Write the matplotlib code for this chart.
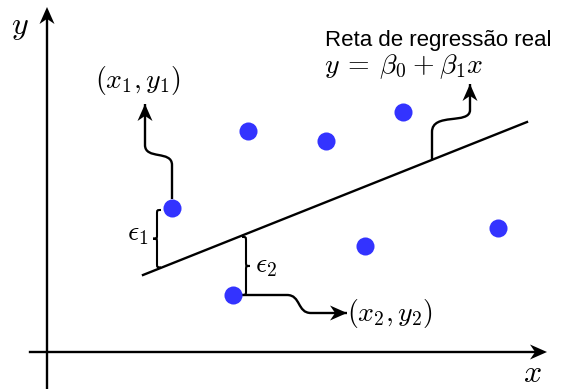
import matplotlib.pyplot as plt
import numpy as np
from matplotlib.path import Path
from matplotlib.patches import PathPatch, Polygon

plt.rcParams["mathtext.fontset"] = "cm"

# observations on a pixel-like canvas (y grows downward)
obs_x = [172, 248, 326, 403, 365, 498, 233]
obs_y = [208, 131, 141, 112, 246, 228, 295]

# true regression line end points
line_x = [143, 527]
line_y = [275, 122]

W, H = 561, 389
fig = plt.figure(figsize=(W / 100, H / 100), dpi=100)
ax = fig.add_axes([0, 0, 1, 1])
ax.set_xlim(0, W)
ax.set_ylim(H, 0)
ax.axis("off")

LW = 1.7
MATH = 20
slope = (line_y[1] - line_y[0]) / (line_x[1] - line_x[0])


def line_at(x):
    return line_y[0] + slope * (x - line_x[0])


def head(tip, frm, length=17, width=15):
    tip = np.asarray(tip, float)
    d = tip - np.asarray(frm, float)
    d /= np.hypot(*d)
    n = np.array([-d[1], d[0]])
    pts = [tip,
           tip - d * length + n * width / 2,
           tip - d * length * 0.7,
           tip - d * length - n * width / 2]
    ax.add_patch(Polygon(pts, closed=True, color="black", lw=0, zorder=4))


def curved_arrow(verts, codes):
    ax.add_patch(PathPatch(Path(verts, codes), fill=False, lw=LW,
                           edgecolor="black", capstyle="butt", zorder=3))
    head(verts[-1], verts[-2])


def brace(x, y0, y1, side, h=4):
    # vertical curly brace; side=-1 tip points left, +1 tip points right
    ym = (y0 + y1) / 2
    back = x - side * h
    tip = x + side * h
    verts = [(back, y0), (x, y0), (x, y0), (x, y0 + h),
             (x, ym - h),
             (x, ym), (x, ym), (tip, ym),
             (x, ym), (x, ym), (x, ym + h),
             (x, y1 - h),
             (x, y1), (x, y1), (back, y1)]
    codes = [Path.MOVETO] + [Path.CURVE4] * 3 + [Path.LINETO] + \
            [Path.CURVE4] * 6 + [Path.LINETO] + [Path.CURVE4] * 3
    ax.add_patch(PathPatch(Path(verts, codes), fill=False, lw=1.5,
                           edgecolor="black"))


# coordinate axes
ax.plot([47, 47], [H, 20], color="black", lw=LW)
head((47, 7), (47, 40))
ax.plot([30, 535], [352, 352], color="black", lw=LW)
head((547, 352), (500, 352))
ax.text(20, 26, "$y$", fontsize=23, ha="center", va="center")
ax.text(532, 374, "$x$", fontsize=23, ha="center", va="center")

# regression line and sample points
ax.plot(line_x, line_y, color="black", lw=LW, zorder=2)
ax.plot(obs_x, obs_y, "o", color="#3333ff", markersize=13, mec="none",
        zorder=5)

# errors
brace(157, obs_y[0] + 2, line_at(157) - 2, side=-1)
ax.text(138, 233, r"$\epsilon_1$", fontsize=MATH, ha="center", va="center")
brace(246, line_at(246) + 3, obs_y[6], side=1)
ax.text(266, 265, r"$\epsilon_2$", fontsize=MATH, ha="center", va="center")

C, L, M = Path.CURVE4, Path.LINETO, Path.MOVETO

# (x1, y1) pointer
curved_arrow([(obs_x[0], obs_y[0] - 9), (obs_x[0], 165),
              (obs_x[0], 150), (145, 160), (145, 145), (145, 104)],
             [M, L, C, C, C, L])
ax.text(138, 80, r"$(x_1, y_1)$", fontsize=MATH, ha="center", va="center")

# (x2, y2) pointer
curved_arrow([(obs_x[6] + 9, obs_y[6]), (287, obs_y[6]),
              (301, obs_y[6]), (297, 313), (311, 313), (347, 313)],
             [M, L, C, C, C, L])
ax.text(347, 313, r"$(x_2, y_2)$", fontsize=MATH, ha="left", va="center")

# line label pointer
curved_arrow([(432, line_at(432)), (432, 132),
              (432, 112), (470, 125), (470, 110), (470, 84)],
             [M, L, C, C, C, L])
ax.text(325, 40, "Reta de regressão real", fontsize=16,
        family="Liberation Sans", ha="left", va="center")
ax.text(324, 67, r"$y\:=\:\beta_0\:+\:\beta_1 x$", fontsize=MATH,
        ha="left", va="center")

fig.savefig("out.png", dpi=100)
